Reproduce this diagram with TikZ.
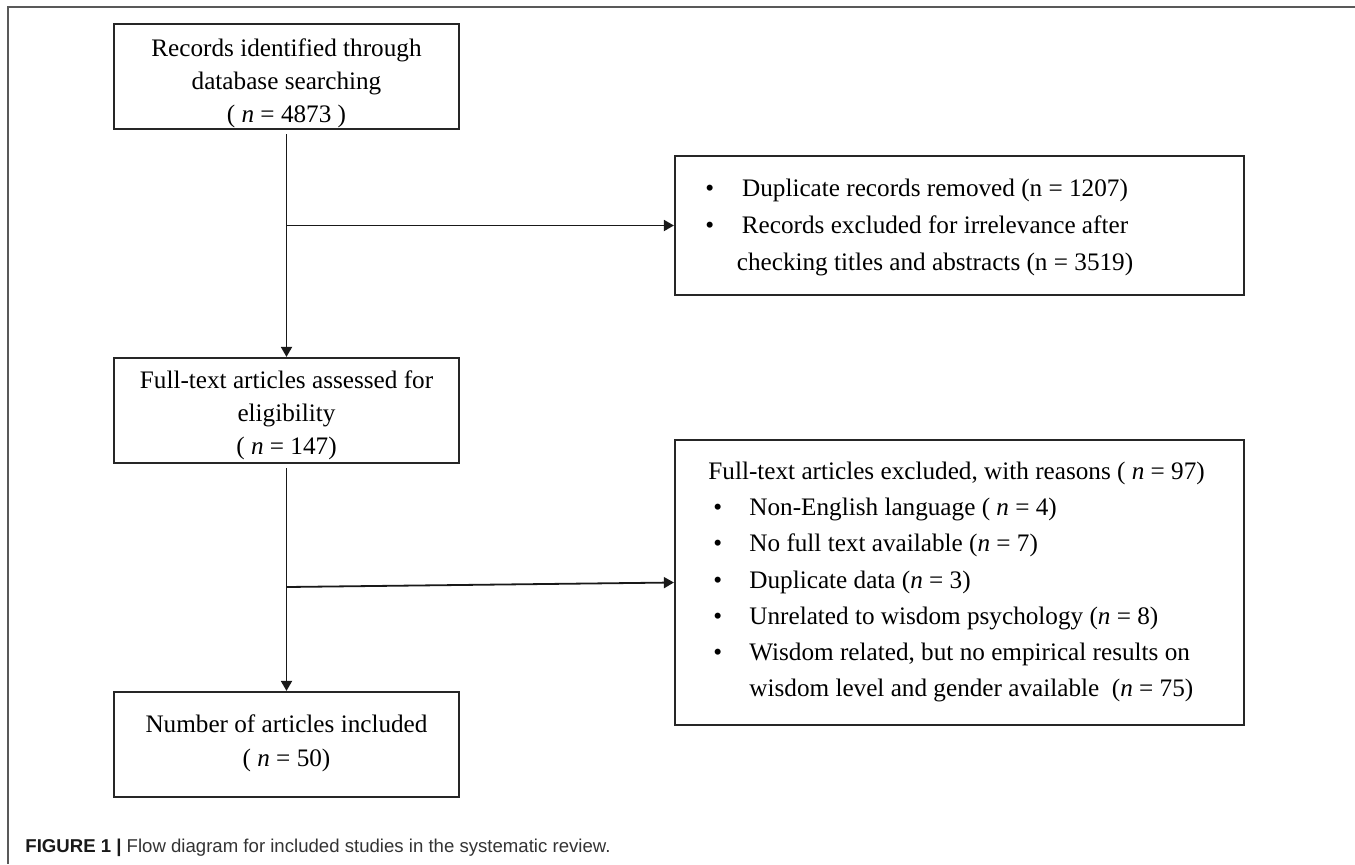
\documentclass[tikz,border=0pt]{standalone}
\usepackage{fontspec}
\setmainfont{Liberation Serif}
\newfontfamily\capfont{Liberation Sans}
\usetikzlibrary{arrows.meta}
\begin{document}
\begin{tikzpicture}[x=0.5pt,y=-0.5pt,
  box/.style={draw=black!85,line width=1.1pt,inner sep=0pt},
  lbox/.style={box,minimum width=172.5pt,minimum height=52.5pt},
  rbox/.style={box,minimum width=284.5pt},
  txt/.style={anchor=base,inner sep=0pt,font=\fontsize{12.6}{15}\selectfont},
  ltxt/.style={txt,anchor=base west},
  conn/.style={line width=0.9pt,draw=black!90},
  arr/.style={conn,-{Triangle[length=5pt,width=5.5pt]}},
  frameline/.style={draw=black!65,line width=0.8pt}]
\useasboundingbox (0,0) rectangle (1355,864);
\draw[frameline] (1355,7) -- (8,7) -- (8,864);

% boxes
\node[lbox] (b1) at (286.5,76.5) {};
\node[lbox] (b2) at (286.5,410.5) {};
\node[lbox] (b3) at (286.5,744.5) {};
\node[rbox,minimum height=69.5pt] (rb1) at (959.5,225.5) {};
\node[rbox,minimum height=142.5pt] (rb2) at (959.5,582.5) {};

% texts of left boxes
\node[txt] (b1a) at (286.5,56) {Records identified through};
\node[txt] (b1b) at (286.5,89) {database searching};
\node[txt] (b1c) at (286.5,122) {( \textit{n} = 4873 )};
\node[txt] (b2a) at (286.5,388) {Full-text articles assessed for};
\node[txt] (b2b) at (286.5,421) {eligibility};
\node[txt] (b2c) at (286.5,454) {( \textit{n} = 147)};
\node[txt] (b3a) at (286.5,732) {Number of articles included};
\node[txt] (b3b) at (286.5,766) {( \textit{n} = 50)};

% texts of right box 1
\node[ltxt] (r1p1) at (705,196) {•};
\node[ltxt] (r1p2) at (705,233) {•};
\node[txt] (r1a) at (935,196) {Duplicate records removed (n = 1207)};
\node[txt] (r1b) at (935,233) {Records excluded for irrelevance after};
\node[txt] (r1c) at (935,270) {checking titles and abstracts (n = 3519)};

% texts of right box 2
\node[ltxt] (r2a) at (708,479) {Full-text articles excluded, with reasons ( \textit{n} = 97)};
\node[ltxt] (r2p1) at (713,515) {•};
\node[ltxt] (r2p2) at (713,551) {•};
\node[ltxt] (r2p3) at (713,588) {•};
\node[ltxt] (r2p4) at (713,624) {•};
\node[ltxt] (r2p5) at (713,660) {•};
\node[ltxt] (r2b) at (749,515) {Non-English language ( \textit{n} = 4)};
\node[ltxt] (r2c) at (749,551) {No full text available (\textit{n} = 7)};
\node[ltxt] (r2d) at (749,588) {Duplicate data (\textit{n} = 3)};
\node[ltxt] (r2e) at (749,624) {Unrelated to wisdom psychology (\textit{n} = 8)};
\node[ltxt] (r2f) at (749,660) {Wisdom related, but no empirical results on};
\node[ltxt] (r2g) at (749,696) {wisdom level and gender available\ \ (\textit{n} = 75)};

% connectors
\coordinate (j1) at (b1.south |- rb1.west);
\coordinate (j2) at (286.5,587);
\draw[arr] ([yshift=-2pt]b1.south) -- (b2.north);
\draw[arr] (j1) -- (rb1.west);
\draw[arr] ([yshift=-2pt]b2.south) -- (b3.north);
\draw[arr] (j2) -- (rb2.west);

% caption
\node[anchor=base west,inner sep=0pt,font=\capfont\fontsize{9.3}{11}\selectfont,text=black!80] (cap) at (25,852)
  {\textbf{\color{black!90}FIGURE 1 |} Flow diagram for included studies in the systematic review.};
\end{tikzpicture}
\end{document}
